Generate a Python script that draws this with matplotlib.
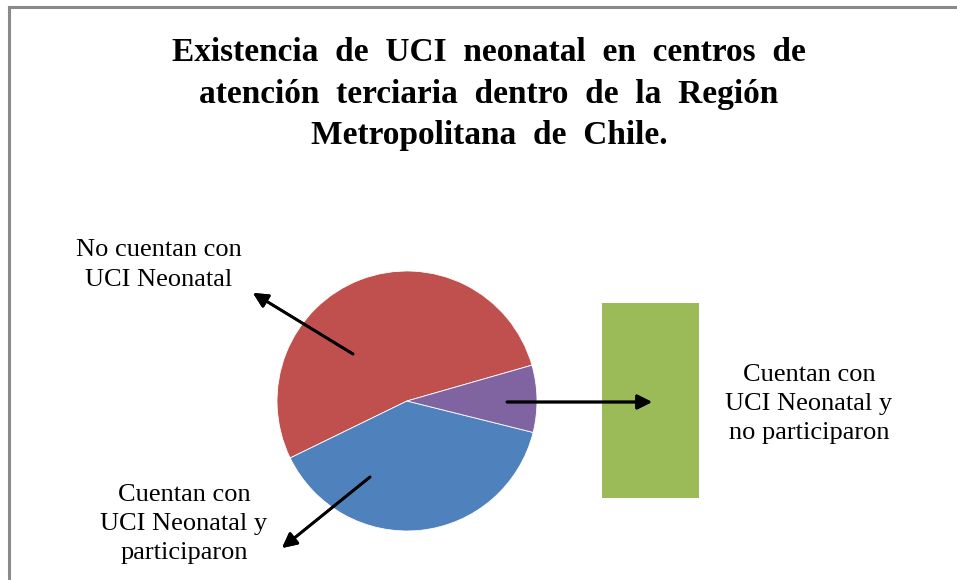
import matplotlib.pyplot as plt
from matplotlib.lines import Line2D

categories = ['No cuentan con\nUCI Neonatal',
              'Cuentan con\nUCI Neonatal y\nparticiparon',
              'Cuentan con\nUCI Neonatal y\nno participaron']
values = [19, 14, 3]
colors = ['#C0504D', '#4F81BD', '#8064A2']
bar_color = '#9BBB59'

W, H = 957, 580
plt.rcParams['font.family'] = ['Liberation Serif', 'DejaVu Serif']

fig = plt.figure(figsize=(W / 100, H / 100), dpi=100)


def fx(px):
    return px / W


def fy(py):
    return 1 - py / H


# marco del grafico (solo se ven borde superior e izquierdo)
fig.add_artist(Line2D([fx(9), fx(957)], [fy(7), fy(7)], color='#8a8a8a', lw=2.2))
fig.add_artist(Line2D([fx(9), fx(9)], [fy(7), fy(580)], color='#8a8a8a', lw=2.2))

fig.text(fx(489), fy(94), 'Existencia  de  UCI  neonatal  en  centros  de\n'
         'atención  terciaria  dentro  de  la  Región\nMetropolitana  de  Chile.',
         ha='center', va='center', fontsize=24, fontweight='bold',
         linespacing=1.45)

# torta
cx, cy, r = 407, 401, 130
ax = fig.add_axes([fx(cx - r), fy(cy + r), 2 * r / W, 2 * r / H])
ax.pie(values, colors=colors, startangle=16, counterclock=True,
       wedgeprops=dict(edgecolor='white', linewidth=0.6))
ax.set_xlim(-1, 1)
ax.set_ylim(-1, 1)
ax.axis('off')

# barra de la porcion pequeña
ax2 = fig.add_axes([fx(602), fy(498), (699 - 602) / W, (498 - 303) / H])
ax2.bar([0], [values[2]], width=1, color=bar_color)
ax2.set_xlim(-0.5, 0.5)
ax2.set_ylim(0, values[2])
ax2.axis('off')

# etiquetas y flechas
label_kw = dict(ha='center', va='center', fontsize=19, linespacing=1.42)
fig.text(fx(159), fy(265), categories[0], **label_kw)
fig.text(fx(184), fy(524), categories[1], **label_kw)
fig.text(fx(809), fy(404), categories[2], **label_kw)

arrows = [((353, 354), (253, 293)), ((370, 477), (282, 548)), ((507, 402), (652, 402))]
for (x0, y0), (x1, y1) in arrows:
    fig.add_artist(plt.annotate('', xy=(fx(x1), fy(y1)), xytext=(fx(x0), fy(y0)),
                                xycoords='figure fraction', textcoords='figure fraction',
                                arrowprops=dict(arrowstyle='-|>', color='black', lw=2,
                                                mutation_scale=22, shrinkA=0, shrinkB=0)))

fig.savefig('out.png', dpi=100)
